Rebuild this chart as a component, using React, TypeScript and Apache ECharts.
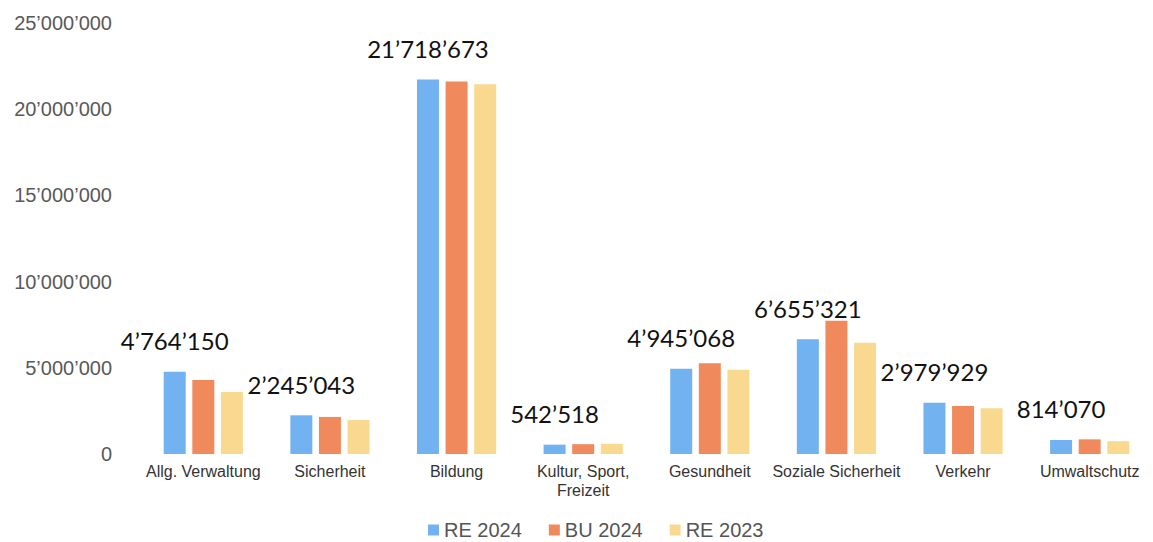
import React, { useEffect, useRef } from "react";
import * as echarts from "echarts";

const categories = [
  "Allg. Verwaltung",
  "Sicherheit",
  "Bildung",
  "Kultur, Sport,\nFreizeit",
  "Gesundheit",
  "Soziale Sicherheit",
  "Verkehr",
  "Umwaltschutz",
];

const re2024 = [4764150, 2245043, 21718673, 542518, 4945068, 6655321, 2979929, 814070];
const bu2024 = [4290000, 2150000, 21600000, 570000, 5260000, 7730000, 2790000, 850000];
const re2023 = [3600000, 1970000, 21450000, 590000, 4880000, 6450000, 2660000, 740000];

const seriesNames = ["RE 2024", "BU 2024", "RE 2023"];
const colors = ["#72B2F0", "#F08A5D", "#F9D990"];

const yTicks = { min: 0, max: 25000000, interval: 5000000 };

function fmt(v: number): string {
  return String(Math.round(v)).replace(/\B(?=(\d{3})+(?!\d))/g, "\u2019");
}

export default function App() {
  const ref = useRef<HTMLDivElement>(null);
  useEffect(() => {
    document.body.style.margin = "0";
    if (!ref.current) return;
    const chart = echarts.init(ref.current, undefined, { renderer: "svg" });
    const datasets = [re2024, bu2024, re2023];
    chart.setOption({
      animation: false,
      backgroundColor: "#ffffff",
      textStyle: { fontFamily: "Liberation Sans, Arial, sans-serif" },
      grid: { left: 140, width: 1029, top: 23, height: 431, containLabel: false },
      legend: {
        data: seriesNames,
        left: 428,
        top: 520,
        padding: 0,
        itemWidth: 11,
        itemHeight: 11,
        itemGap: 27,
        icon: "rect",
        textStyle: {
          fontSize: 20,
          lineHeight: 20,
          color: "#555555",
          fontFamily: "Liberation Sans, Arial, sans-serif",
        },
      },
      xAxis: {
        type: "category",
        data: categories,
        axisLine: { show: false },
        axisTick: { show: false },
        axisLabel: {
          interval: 0,
          margin: 8,
          fontSize: 16,
          lineHeight: 19,
          color: "#333333",
          fontFamily: "Liberation Sans, Arial, sans-serif",
        },
      },
      yAxis: {
        type: "value",
        min: yTicks.min,
        max: yTicks.max,
        interval: yTicks.interval,
        splitLine: { show: false },
        axisLine: { show: false },
        axisTick: { show: false },
        axisLabel: {
          margin: 28,
          fontSize: 20,
          color: "#595959",
          fontFamily: "Liberation Sans, Arial, sans-serif",
          formatter: (v: number) => fmt(v),
        },
      },
      series: seriesNames.map((name, i) => ({
        name,
        type: "bar",
        data: datasets[i],
        barWidth: 22,
        barGap: "30%",
        itemStyle: { color: colors[i] },
        label:
          i === 0
            ? {
                show: true,
                position: "top",
                distance: 19,
                fontSize: 24,
                color: "#111111",
                fontFamily: "Lato, Open Sans, sans-serif",
                formatter: (p: any) => fmt(p.value),
              }
            : { show: false },
      })),
    });
    return () => chart.dispose();
  }, []);
  return <div ref={ref} style={{ width: 1153, height: 542 }} />;
}
